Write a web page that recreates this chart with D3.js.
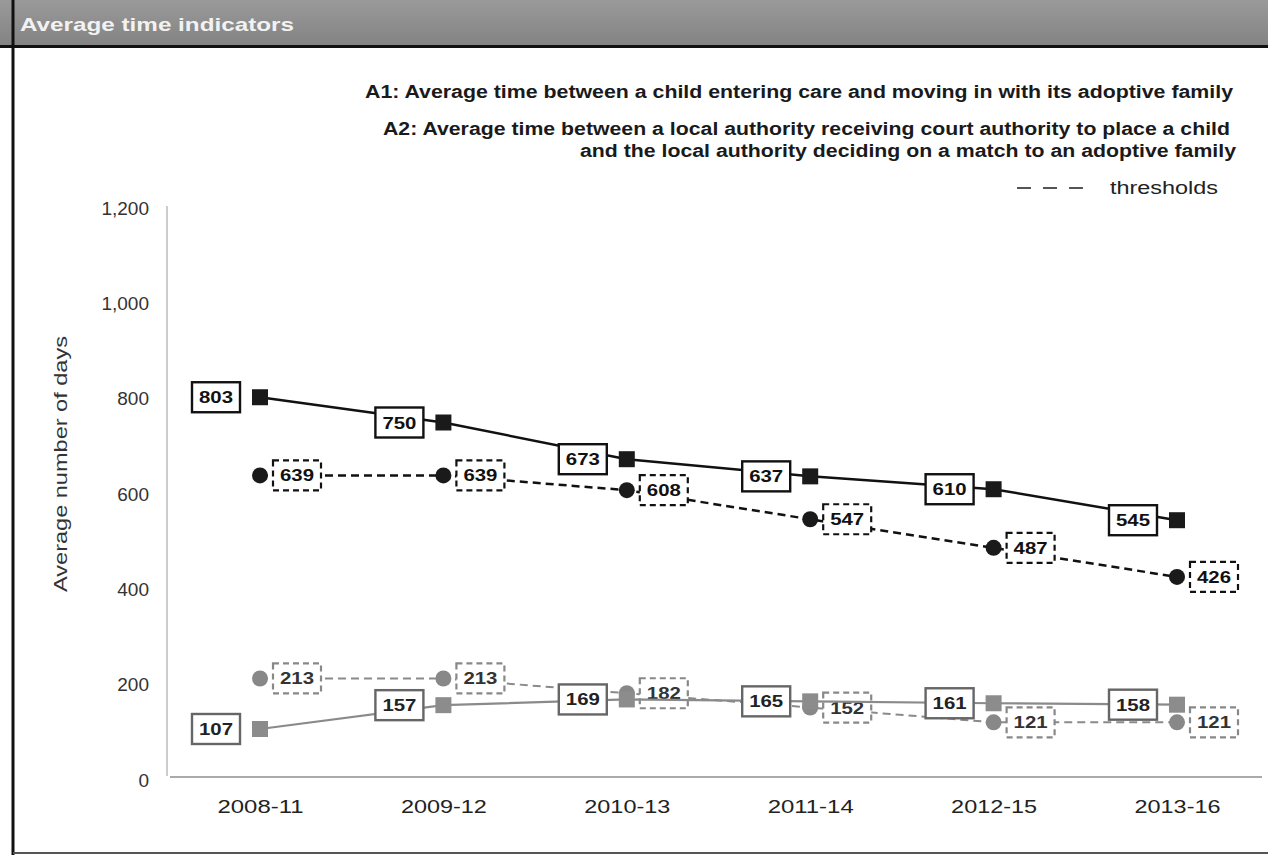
<!DOCTYPE html>
<html><head><meta charset="utf-8">
<script src="https://cdn.jsdelivr.net/npm/d3@7"></script>
<style>
html,body{margin:0;padding:0;background:#fff;}
svg{display:block;font-family:"Liberation Sans",Arial,sans-serif;}
</style></head>
<body>
<svg id="chart" width="1268" height="855"></svg>
<script>
const periods = ["2008-11","2009-12","2010-13","2011-14","2012-15","2013-16"];
const a1Values = [803,750,673,637,610,545];
const a1Thresholds = [639,639,608,547,487,426];
const a2Values = [107,157,169,165,161,158];
const a2Thresholds = [213,213,182,152,121,121];
const yTicks = [0,200,400,600,800,1000,1200];
const title = "Average time indicators";
const yTitle = "Average number of days";
const legendLines = [
  "A1: Average time between a child entering care and moving in with its adoptive family",
  "A2: Average time between a local authority receiving court authority to place a child",
  "and the local authority deciding on a match to an adoptive family"
];
const thresholdLabel = "thresholds";

const svg = d3.select("#chart");
const W = 1268, H = 855;

// header
const defs = svg.append("defs");
const grad = defs.append("linearGradient").attr("id","hdr").attr("x1",0).attr("y1",0).attr("x2",0).attr("y2",1);
grad.append("stop").attr("offset","0%").attr("stop-color","#9a9a9a");
grad.append("stop").attr("offset","100%").attr("stop-color","#838383");
svg.append("rect").attr("x",0).attr("y",0).attr("width",W).attr("height",46).attr("fill","url(#hdr)");
svg.append("line").attr("x1",0).attr("x2",W).attr("y1",46.5).attr("y2",46.5).attr("stroke","#111").attr("stroke-width",3);
svg.append("line").attr("x1",13).attr("x2",13).attr("y1",0).attr("y2",H).attr("stroke","#111").attr("stroke-width",3);
svg.append("line").attr("x1",13).attr("x2",W).attr("y1",853).attr("y2",853).attr("stroke","#555").attr("stroke-width",2);
svg.append("text").attr("x",20).attr("y",31).attr("fill","#f2f2f2")
  .attr("font-size",19).attr("font-weight","bold")
  .attr("textLength",274).attr("lengthAdjust","spacingAndGlyphs").text(title);

// scales
const x = d3.scalePoint().domain(periods).range([260,1177]);
const y = d3.scaleLinear().domain([0,1200]).range([780,208]);

// axes frame
svg.append("line").attr("x1",167).attr("x2",167).attr("y1",206).attr("y2",776).attr("stroke","#bbb").attr("stroke-width",1.5);
svg.append("line").attr("x1",170).attr("x2",1262).attr("y1",777).attr("y2",777).attr("stroke","#aaa").attr("stroke-width",2);

const yAxis = svg.append("g").attr("transform","translate(149,0)")
  .call(d3.axisLeft(y).tickValues(yTicks).tickSize(0).tickPadding(0).tickFormat(d3.format(",")));
yAxis.select(".domain").remove();
yAxis.selectAll("text").attr("font-size",19).attr("fill","#333").attr("font-family","Liberation Sans, Arial, sans-serif");

const xAxis = svg.append("g").attr("transform","translate(0,799)")
  .call(d3.axisBottom(x).tickSize(0).tickPadding(0));
xAxis.select(".domain").remove();
xAxis.selectAll("text").attr("font-size",19).attr("fill","#222").attr("dy","0.71em")
  .attr("font-family","Liberation Sans, Arial, sans-serif")
  .attr("textLength",86).attr("lengthAdjust","spacingAndGlyphs");

svg.append("text").attr("transform","translate(67,464) rotate(-90)").attr("text-anchor","middle")
  .attr("font-size",19).attr("fill","#333")
  .attr("textLength",256).attr("lengthAdjust","spacingAndGlyphs").text(yTitle);

// legend
const legY = [98,135,157];
const legStart = [365,383,580];
const legLen = [868,847,656];
legendLines.forEach((t,i)=>{
  svg.append("text").attr("x",legStart[i]).attr("y",legY[i])
    .attr("font-size",17.5).attr("font-weight","bold").attr("fill","#1a1a1a")
    .attr("textLength",legLen[i]).attr("lengthAdjust","spacingAndGlyphs")
    .text(t);
});
svg.append("line").attr("x1",1017).attr("x2",1088).attr("y1",188).attr("y2",188)
  .attr("stroke","#555").attr("stroke-width",2).attr("stroke-dasharray","14,12");
svg.append("text").attr("x",1110).attr("y",194).attr("font-size",17.5).attr("fill","#222")
  .attr("textLength",108).attr("lengthAdjust","spacingAndGlyphs").text(thresholdLabel);

// series drawing
const line = d3.line().x((d,i)=>x(periods[i])).y(d=>y(d));
function drawSeries(vals, opt){
  const g = svg.append("g");
  g.append("path").datum(vals).attr("d",line).attr("fill","none")
    .attr("stroke",opt.lineColor).attr("stroke-width",opt.lw)
    .attr("stroke-dasharray",opt.dashed?"8,5":null);
  vals.forEach((v,i)=>{
    const cx = x(periods[i]), cy = y(v);
    const bw = 48, bh = 30;
    const bx = opt.dashed ? cx + 13 : cx - 20 - bw;
    g.append("rect").attr("x",bx).attr("y",cy-bh/2).attr("width",bw).attr("height",bh)
      .attr("fill","#fff").attr("stroke",opt.boxColor).attr("stroke-width",opt.dashed?2.2:2.4)
      .attr("stroke-dasharray",opt.dashed?"6,4":null);
    g.append("text").attr("x",bx+bw/2).attr("y",cy+6).attr("text-anchor","middle")
      .attr("font-size",17).attr("font-weight","bold").attr("fill",opt.textColor)
      .attr("textLength",34).attr("lengthAdjust","spacingAndGlyphs").text(v);
  });
  vals.forEach((v,i)=>{
    const cx = x(periods[i]), cy = y(v);
    if(opt.marker==="square"){
      g.append("rect").attr("x",cx-8).attr("y",cy-8).attr("width",16).attr("height",16).attr("fill",opt.markerColor);
    } else {
      g.append("circle").attr("cx",cx).attr("cy",cy).attr("r",8).attr("fill",opt.markerColor);
    }
  });
}
drawSeries(a2Thresholds,{dashed:true,marker:"circle",lineColor:"#8a8a8a",lw:2,markerColor:"#888",boxColor:"#888",textColor:"#333"});
drawSeries(a2Values,{dashed:false,marker:"square",lineColor:"#8a8a8a",lw:2.2,markerColor:"#8c8c8c",boxColor:"#666",textColor:"#222"});
drawSeries(a1Thresholds,{dashed:true,marker:"circle",lineColor:"#111",lw:2.5,markerColor:"#1a1a1a",boxColor:"#111",textColor:"#111"});
drawSeries(a1Values,{dashed:false,marker:"square",lineColor:"#111",lw:2.5,markerColor:"#1a1a1a",boxColor:"#111",textColor:"#111"});
</script>
</body></html>
